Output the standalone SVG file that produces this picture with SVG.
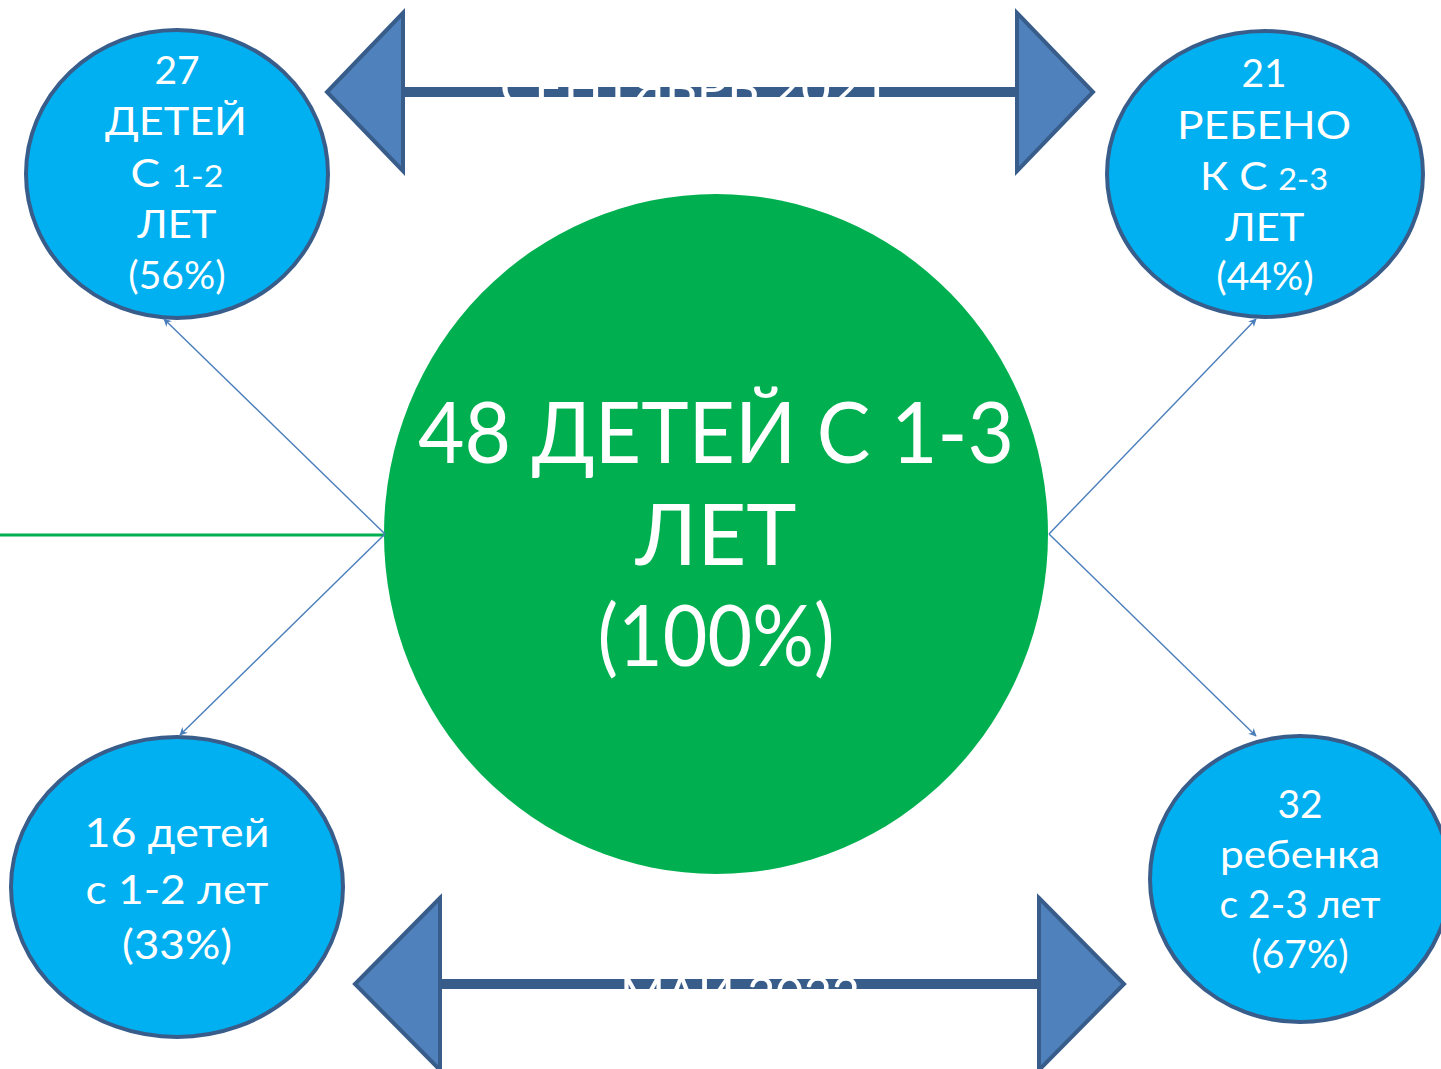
<svg xmlns="http://www.w3.org/2000/svg" width="1441" height="1069" viewBox="0 0 1441 1069">
  <defs>
    <style>
      .t { font-family: Lato, "Open Sans", "Noto Sans", sans-serif; fill: #FFFFFF; text-anchor: middle; }
      .small { fill: #00B0F0; stroke: #385D8A; stroke-width: 4; }
      .big { fill: #00B050; }
      .conn { stroke: #4A7EBB; stroke-width: 1.4; fill: none; marker-end: url(#ah); }
      .bar { stroke: #385D8A; stroke-width: 10; fill: none; }
      .head { fill: #4F81BD; stroke: #385D8A; stroke-width: 4; stroke-linejoin: miter; }
      .s38 { font-size: 39px; }
      .s41 { font-size: 41px; }
      .d28 { font-size: 30px; }
    </style>
    <marker id="ah" viewBox="0 0 10 10" refX="9" refY="5" markerWidth="8" markerHeight="8" markerUnits="userSpaceOnUse" orient="auto">
      <path d="M0,0 L10,5 L0,10 L3,5 z" fill="#4A7EBB"/>
    </marker>
  </defs>
  <rect x="0" y="0" width="1441" height="1069" fill="#FFFFFF"/>

  <g id="green-line">
    <line x1="0" y1="535" x2="385" y2="535" stroke="#00B050" stroke-width="3"/>
  </g>

  <g id="center">
    <ellipse class="big" cx="716" cy="534" rx="332" ry="340"/>
    <text class="t" x="716" y="463" font-size="85" textLength="596" lengthAdjust="spacingAndGlyphs">48 ДЕТЕЙ С 1-3</text>
    <text class="t" x="716" y="565" font-size="85">ЛЕТ</text>
    <text class="t" x="716" y="666" font-size="85" textLength="237" lengthAdjust="spacingAndGlyphs">(100%)</text>
  </g>

  <g id="top-arrow">
    <line class="bar" x1="403" y1="92" x2="1017" y2="92"/>
    <text class="t" x="695" y="105" font-size="49" textLength="390" lengthAdjust="spacingAndGlyphs">СЕНТЯБРЬ 2021</text>
    <polygon class="head" points="403,13 327,92 403,171"/>
    <polygon class="head" points="1017,13 1093,92 1017,171"/>
  </g>

  <g id="bottom-arrow">
    <line class="bar" x1="440" y1="984" x2="1039" y2="984"/>
    <text class="t" x="740" y="1012" font-size="49" textLength="240" lengthAdjust="spacingAndGlyphs">МАЙ 2022</text>
    <polygon class="head" points="440,898 355,984 440,1070"/>
    <polygon class="head" points="1039,898 1124,984 1039,1070"/>
  </g>

  <g id="node-top-left">
    <ellipse class="small" cx="177" cy="174" rx="151" ry="144"/>
    <text class="t s38" x="177" y="84">27</text>
    <text class="t s38" x="176" y="135" textLength="142" lengthAdjust="spacingAndGlyphs">ДЕТЕЙ</text>
    <text class="t s38" x="177" y="187" textLength="93" lengthAdjust="spacingAndGlyphs">С <tspan class="d28">1-2</tspan></text>
    <text class="t s38" x="177" y="238" textLength="79" lengthAdjust="spacingAndGlyphs">ЛЕТ</text>
    <text class="t s38" x="177" y="289">(56%)</text>
  </g>

  <g id="node-top-right">
    <ellipse class="small" cx="1265" cy="174" rx="158" ry="143"/>
    <text class="t s38" x="1264" y="87">21</text>
    <text class="t s38" x="1264" y="139" textLength="174" lengthAdjust="spacingAndGlyphs">РЕБЕНО</text>
    <text class="t s38" x="1264" y="190" textLength="128" lengthAdjust="spacingAndGlyphs">К С <tspan class="d28">2-3</tspan></text>
    <text class="t s38" x="1265" y="241" textLength="79" lengthAdjust="spacingAndGlyphs">ЛЕТ</text>
    <text class="t s38" x="1265" y="290">(44%)</text>
  </g>

  <g id="node-bottom-left">
    <ellipse class="small" cx="177" cy="887" rx="166" ry="150"/>
    <text class="t s41" x="177" y="847" textLength="185" lengthAdjust="spacingAndGlyphs">16 детей</text>
    <text class="t s41" x="177" y="904" textLength="183" lengthAdjust="spacingAndGlyphs">с 1-2 лет</text>
    <text class="t s41" x="177" y="959" textLength="110" lengthAdjust="spacingAndGlyphs">(33%)</text>
  </g>

  <g id="node-bottom-right">
    <ellipse class="small" cx="1300" cy="879" rx="150" ry="143"/>
    <text class="t s38" x="1300" y="818">32</text>
    <text class="t s38" x="1300" y="868" textLength="160" lengthAdjust="spacingAndGlyphs">ребенка</text>
    <text class="t s38" x="1300" y="918" textLength="161" lengthAdjust="spacingAndGlyphs">с 2-3 лет</text>
    <text class="t s38" x="1300" y="968">(67%)</text>
  </g>

  <g id="connectors">
    <line class="conn" x1="385" y1="534" x2="164" y2="319"/>
    <line class="conn" x1="385" y1="534" x2="180" y2="735"/>
    <line class="conn" x1="1049" y1="534" x2="1256" y2="319"/>
    <line class="conn" x1="1049" y1="534" x2="1256" y2="736"/>
  </g>
</svg>
